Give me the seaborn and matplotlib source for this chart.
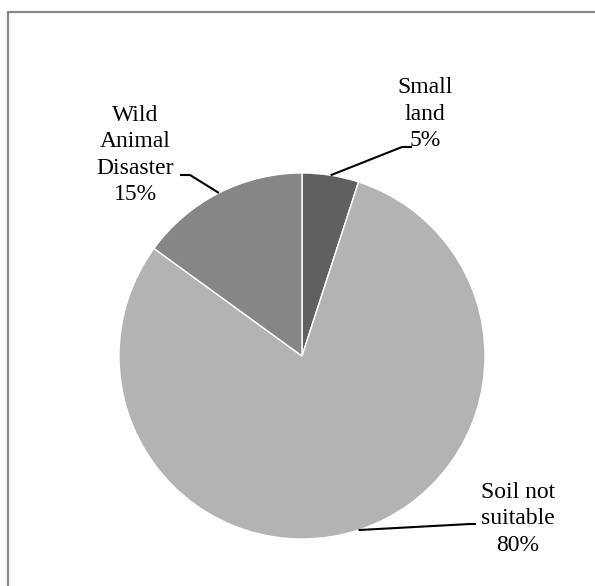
import numpy as np
import seaborn as sns
import matplotlib.pyplot as plt
from matplotlib.lines import Line2D

categories = ['Small\nland', 'Soil not\nsuitable', 'Wild\nAnimal\nDisaster']
shares = [5, 80, 15]
colors = ['#606060', '#b3b3b3', '#868686']

# label placement (pixels, y measured from bottom) and leader elbows
label_pos = [(425, 472), (518, 67), (135, 431)]
elbows = [((402, 439), (412, 439)), ((470, 62), (476, 62)), ((190, 411), (180, 411))]


def main():
	sns.set_style("white")
	plt.rcParams['font.family'] = ['Liberation Serif', 'DejaVu Serif']

	W, H = 595, 586
	fig = plt.figure(figsize=(W / 100, H / 100), dpi=100)
	ax = fig.add_axes([0, 0, 1, 1])
	ax.set_xlim(0, W)
	ax.set_ylim(0, H)
	ax.set_aspect('equal')
	ax.axis('off')

	cx, cy, r = 302, 586 - 356, 183
	wedges, _ = ax.pie(shares, colors=colors, startangle=90, counterclock=False,
		center=(cx, cy), radius=r, wedgeprops=dict(edgecolor='white', linewidth=1))
	ax.set_xlim(0, W)
	ax.set_ylim(0, H)

	for w, cat, val, pos, (elb, end) in zip(wedges, categories, shares, label_pos, elbows):
		mid = np.deg2rad((w.theta1 + w.theta2) / 2)
		ex, ey = cx + r * np.cos(mid), cy + r * np.sin(mid)
		ax.plot([ex, elb[0], end[0]], [ey, elb[1], end[1]], color='black', lw=1.5,
			solid_capstyle='butt')
		ax.text(pos[0], pos[1], '%s\n%d%%' % (cat, val), ha='center', va='center',
			multialignment='center', fontsize=17, linespacing=1.32, color='black')

	# chart frame (only top and left visible)
	fig.add_artist(Line2D([8 / W, 1], [1 - 12 / H, 1 - 12 / H], transform=fig.transFigure,
		color='#888888', lw=1.6))
	fig.add_artist(Line2D([8 / W, 8 / W], [0, 1 - 12 / H], transform=fig.transFigure,
		color='#888888', lw=1.6))

	fig.savefig('out.png', dpi=100, facecolor='white')


if __name__ == '__main__':
	main()
